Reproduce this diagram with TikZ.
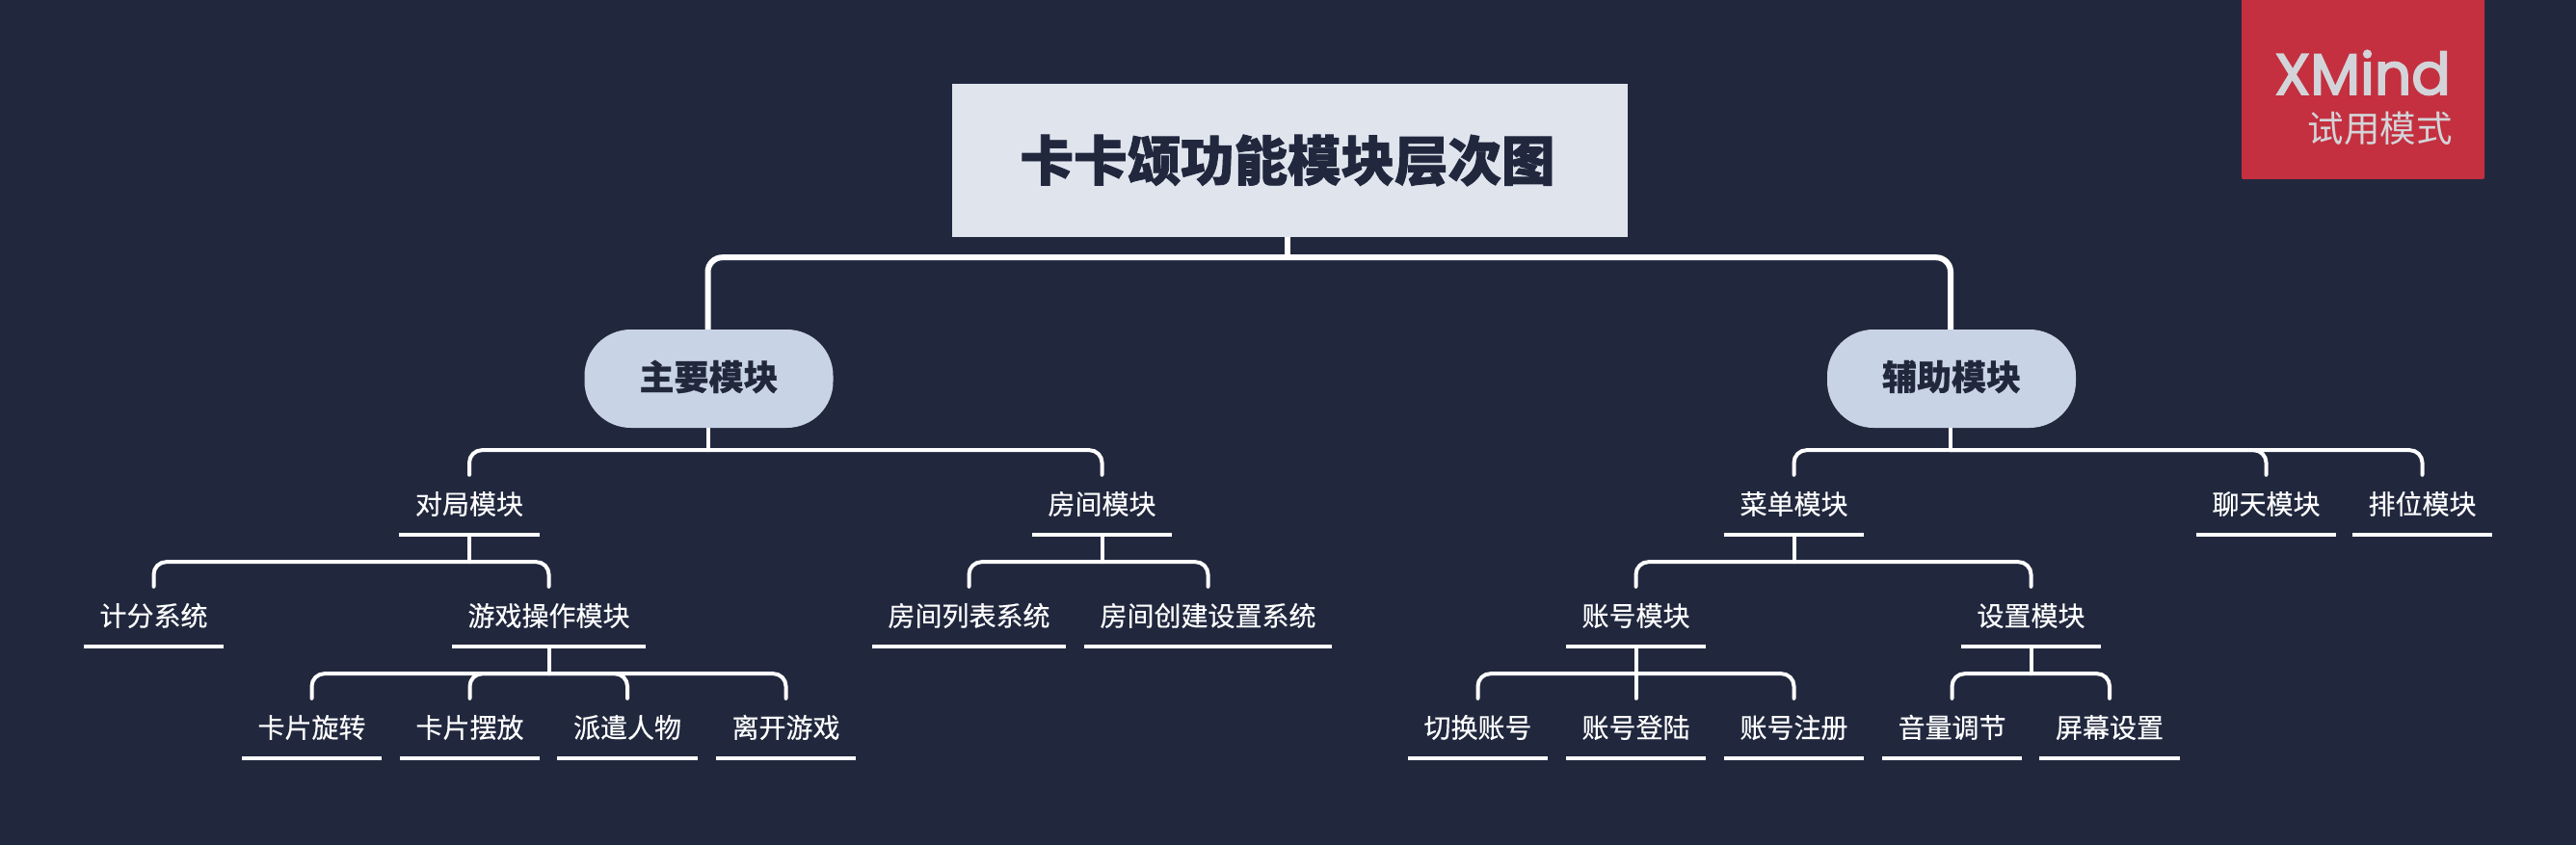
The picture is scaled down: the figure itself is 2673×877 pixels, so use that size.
\documentclass[tikz,border=0pt]{standalone}
\usepackage{fontspec}
\setmainfont{Noto Sans CJK SC}
\newfontfamily\logofont[FakeBold=3]{Poppins}
\definecolor{bgc}{HTML}{21283E}
\definecolor{boxc}{HTML}{E0E5ED}
\definecolor{pillc}{HTML}{C8D3E5}
\definecolor{redc}{HTML}{C4303F}
\definecolor{logoc}{HTML}{D3D4D9}
\tikzset{
  topic/.style={text=white,font=\fontsize{28}{28}\selectfont\addfontfeature{FakeBold=0.25},minimum height=60,inner xsep=16.5,inner ysep=0,
    text height=24.6,text depth=7.4,
    append after command={(\tikzlastnode.south west) edge[draw=white,line width=4pt] (\tikzlastnode.south east)}},
  pill/.style={fill=pillc,text=bgc,font=\fontsize{36}{36}\selectfont\bfseries\addfontfeature{FakeBold=0.6},minimum width=258,minimum height=102,inner sep=0,rounded corners=48,
    text height=31.7,text depth=8.3},
  titlebox/.style={fill=boxc,text=bgc,font=\fontsize{55.5}{56}\selectfont\bfseries\addfontfeature{FakeBold=1.5},minimum width=701,minimum height=159,inner sep=0},
  trunk/.style={draw=white,line width=4pt},
  branch/.style={draw=white,line width=4pt,rounded corners=13,line cap=round,shorten >=2pt},
  bigtrunk/.style={draw=white,line width=6pt},
  bigbranch/.style={draw=white,line width=6pt,rounded corners=15},
  logotext/.style={text=logoc,inner sep=0}
}
\newcommand{\forkof}[2]{%
  \draw[trunk] (#1.south) -- ++(0,28) coordinate (bus#1);
  \foreach \c in {#2}{\draw[branch] (bus#1) -| (\c.north);}
}
\begin{document}
\begin{tikzpicture}[x=1pt,y=-1pt]
\useasboundingbox (0,0) rectangle (2673,877);
\fill[bgc] (0,0) rectangle (2673,877);
% logo
\fill[redc,rounded corners=2] (2326,-10) rectangle (2578,186);
\node[logotext,anchor=base east,font=\logofont\fontsize{60}{60}\selectfont] (logoa) at (2543,98) {XMind};
\node[logotext,anchor=east,font=\fontsize{37.5}{38}\selectfont] (logob) at (2545,133.5) {试用模式};
% main nodes
\node[titlebox] (root) at (1338.5,166.5) {\hspace*{-5pt}卡卡颂功能模块层次图};
\node[pill] (main) at (735.5,393) {主要模块};
\node[pill] (aux) at (2025,393) {辅助模块};
% left
\node[topic] (duiju) at (487,525) {对局模块};
\node[topic] (fangjian) at (1143.5,525) {房间模块};
\node[topic] (jifen) at (159.5,641) {计分系统};
\node[topic] (youxi) at (569.5,641) {游戏操作模块};
\node[topic] (liebiao) at (1005.5,641) {房间列表系统};
\node[topic] (chuangjian) at (1253.5,641) {房间创建设置系统};
\node[topic] (xuanzhuan) at (323.5,757) {卡片旋转};
\node[topic] (baifang) at (487.5,757) {卡片摆放};
\node[topic] (paiqian) at (651,757) {派遣人物};
\node[topic] (likai) at (815.5,757) {离开游戏};
% right
\node[topic] (caidan) at (1861.5,525) {菜单模块};
\node[topic] (liaotian) at (2351.5,525) {聊天模块};
\node[topic] (paiwei) at (2513.5,525) {排位模块};
\node[topic] (zhanghao) at (1697.5,641) {账号模块};
\node[topic] (shezhi) at (2107.5,641) {设置模块};
\node[topic] (qiehuan) at (1533.5,757) {切换账号};
\node[topic] (denglu) at (1697.5,757) {账号登陆};
\node[topic] (zhuce) at (1861.5,757) {账号注册};
\node[topic] (yinliang) at (2025.5,757) {音量调节};
\node[topic] (pingmu) at (2189,757) {屏幕设置};
% connectors
\draw[bigtrunk] ([xshift=-2.5pt]root.south) -- ++(0,21) coordinate (busroot);
\draw[bigbranch] (busroot) -| ([xshift=-1pt]main.north);
\draw[bigbranch] (busroot) -| ([xshift=-1pt]aux.north);
\draw[trunk] ([xshift=-1pt]main.south) -- ++(0,23) coordinate (busmain);
\foreach \c in {duiju,fangjian}{\draw[branch] (busmain) -| (\c.north);}
\draw[trunk] ([xshift=-1pt]aux.south) -- ++(0,23) coordinate (busaux);
\foreach \c in {caidan,liaotian,paiwei}{\draw[branch] (busaux) -| (\c.north);}
\forkof{duiju}{jifen,youxi}
\forkof{fangjian}{liebiao,chuangjian}
\forkof{youxi}{xuanzhuan,baifang,paiqian,likai}
\forkof{caidan}{zhanghao,shezhi}
\forkof{zhanghao}{qiehuan,denglu,zhuce}
\forkof{shezhi}{yinliang,pingmu}
\end{tikzpicture}
\end{document}
